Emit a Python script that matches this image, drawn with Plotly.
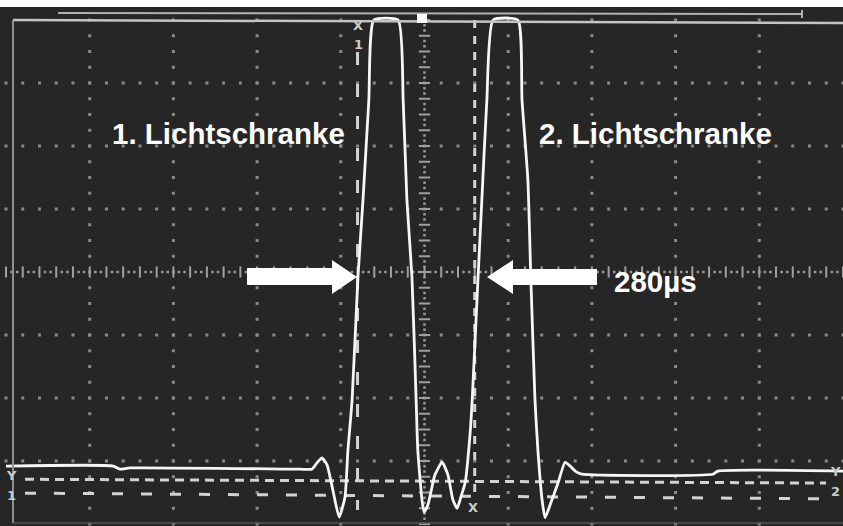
import numpy as np
import plotly.graph_objects as go

# ---- data (200 µs/div, vertical in divisions) ----
time_us = [0, 256, 272, 296, 703, 731, 743, 755, 767, 781, 796, 810, 817, 827, 841, 853, 867, 879,
           937, 949, 958, 970, 980, 984, 994, 999, 1008, 1025, 1042, 1056, 1068, 1078, 1087, 1097,
           1109, 1114, 1128, 1137, 1149, 1164, 1223, 1233, 1247, 1254, 1264, 1271, 1281, 1288,
           1300, 1319, 1336, 1348, 1362, 1376, 1689, 1701, 2000]
signal_div = [0.92, 0.92, 0.87, 0.89, 0.87, 0.87, 0.97, 1.05, 0.94, 0.54, 0.11, 0.43, 1.17, 1.97, 3.92, 5.14, 6.73, 8.0,
              8.0, 6.73, 5.14, 3.92, 1.97, 1.17, 0.38, 0.19, 0.30, 0.78, 0.98, 0.78, 0.38, 0.25, 0.43, 0.65,
              1.44, 1.97, 3.92, 5.14, 6.73, 8.0, 8.0, 6.73, 5.46, 3.92, 1.97, 1.17, 0.38, 0.10,
              0.30, 0.65, 0.98, 0.92, 0.83, 0.79, 0.79, 0.84, 0.84]

cursor_x_us = [840, 1120]          # X1, X2 time cursors (delta = 280 µs)
cursor_y1_div = [0.71, 0.65]       # Y1 cursor (left end, right end)
cursor_y2_div = [0.49, 0.40]       # Y2 cursor (left end, right end)
major_t = [200, 400, 600, 800, 1000, 1200, 1400, 1600, 1800]
major_v = [1, 2, 3, 4, 5, 6, 7]

labels = ["1. Lichtschranke", "2. Lichtschranke", "280µs"]

# ---- pixel helpers for decorations only ----
def px_t(px):
    return (px - 6) * 200 / 83.7

def py_v(py):
    return (524 - py) / 63.0

X_RANGE = [px_t(0), px_t(843)]
Y_RANGE = [py_v(526), py_v(0)]

BG = "#262626"
DOT = "#8a8a8a"

fig = go.Figure()

# dotted graticule: rows (dots every 0.2 div), columns (dots every 0.25 div)
row_x, row_y, col_x, col_y = [], [], [], []
for v in major_v:
    if v == 4:
        continue
    for t in np.arange(0, 2001, 40):
        row_x.append(t); row_y.append(v)
for t in major_t:
    if t == 1000:
        continue
    for v in np.arange(0, 8.01, 0.25):
        col_x.append(t); col_y.append(v)
fig.add_trace(go.Scatter(x=row_x + col_x, y=row_y + col_y, mode="markers",
                         marker=dict(size=3, color=DOT, symbol="square"),
                         hoverinfo="skip", showlegend=False))

# center lines with tick marks
cx_t = list(np.arange(0, 2001, 40))
cx_d = [t for t in np.arange(0, 2001, 40 / 3) if abs((t / 40) - round(t / 40)) > 0.1]
fig.add_trace(go.Scatter(x=cx_t, y=[4] * len(cx_t), mode="markers",
                         marker=dict(symbol="line-ns", size=8, line=dict(color="#a0a0a0", width=2)),
                         hoverinfo="skip", showlegend=False))
fig.add_trace(go.Scatter(x=cx_d, y=[4] * len(cx_d), mode="markers",
                         marker=dict(size=2.5, color="#9a9a9a", symbol="square"),
                         hoverinfo="skip", showlegend=False))
cy_v = list(np.arange(0, 8.01, 0.25))
cy_d = [v for v in np.arange(0, 8.01, 0.25 / 3) if abs((v / 0.25) - round(v / 0.25)) > 0.1]
fig.add_trace(go.Scatter(x=[1000] * len(cy_v), y=cy_v, mode="markers",
                         marker=dict(symbol="line-ew", size=8, line=dict(color="#a0a0a0", width=2)),
                         hoverinfo="skip", showlegend=False))
fig.add_trace(go.Scatter(x=[1000] * len(cy_d), y=cy_d, mode="markers",
                         marker=dict(size=2.5, color="#9a9a9a", symbol="square"),
                         hoverinfo="skip", showlegend=False))

# cursors
CUR = "#d2d2d2"
fig.add_trace(go.Scatter(x=[cursor_x_us[0]] * 2, y=[py_v(52), py_v(510)], mode="lines",
                         line=dict(color=CUR, width=3, dash="13px,19px"),
                         hoverinfo="skip", showlegend=False))
fig.add_trace(go.Scatter(x=[cursor_x_us[1]] * 2, y=[py_v(20), py_v(496)], mode="lines",
                         line=dict(color=CUR, width=3, dash="8px,8px"),
                         hoverinfo="skip", showlegend=False))
fig.add_trace(go.Scatter(x=[px_t(25), px_t(826)], y=cursor_y1_div, mode="lines",
                         line=dict(color=CUR, width=3, dash="9px,6px"),
                         hoverinfo="skip", showlegend=False))
fig.add_trace(go.Scatter(x=[px_t(25), px_t(826)], y=cursor_y2_div, mode="lines",
                         line=dict(color=CUR, width=3, dash="11px,18px"),
                         hoverinfo="skip", showlegend=False))

# signal trace
fig.add_trace(go.Scatter(x=time_us, y=signal_div, mode="lines",
                         line=dict(color="#f6f6f6", width=2.8, shape="spline", smoothing=0.5),
                         hoverinfo="skip", showlegend=False))

shapes = []
# white band at top of photo
shapes.append(dict(type="rect", xref="x", yref="y", x0=px_t(-10), x1=px_t(860), y0=py_v(7), y1=py_v(-10),
                   fillcolor="white", line=dict(width=0), layer="above"))
# top scale line + bracket
shapes.append(dict(type="line", xref="x", yref="y", x0=px_t(58), x1=px_t(802), y0=py_v(13), y1=py_v(14),
                   line=dict(color="#b0b0b0", width=2)))
shapes.append(dict(type="line", xref="x", yref="y", x0=px_t(802), x1=px_t(802), y0=py_v(10), y1=py_v(18),
                   line=dict(color="#b0b0b0", width=2)))
# screen frame
shapes.append(dict(type="line", xref="x", yref="y", x0=px_t(13), x1=px_t(843), y0=py_v(20), y1=py_v(23),
                   line=dict(color="#c4c4c4", width=2.5)))
shapes.append(dict(type="line", xref="x", yref="y", x0=px_t(13), x1=px_t(13), y0=py_v(20), y1=py_v(523),
                   line=dict(color="#8f8f8f", width=2)))
shapes.append(dict(type="line", xref="x", yref="y", x0=px_t(13), x1=px_t(843), y0=py_v(523), y1=py_v(523),
                   line=dict(color="#555555", width=1.5)))
# trigger marker
shapes.append(dict(type="rect", xref="x", yref="y", x0=px_t(417), x1=px_t(427), y0=py_v(23), y1=py_v(14),
                   fillcolor="white", line=dict(width=0)))

# arrows
def poly(pts):
    return "M " + " L ".join(f"{px_t(a):.3f},{py_v(b):.4f}" for a, b in pts) + " Z"

left_arrow = [(247, 268), (332, 268), (332, 260), (357, 277), (332, 294), (332, 285), (247, 285)]
right_arrow = [(597, 269), (513, 269), (513, 260), (487, 277), (513, 294), (513, 285), (597, 285)]
for pts in (left_arrow, right_arrow):
    shapes.append(dict(type="path", xref="x", yref="y", path=poly(pts),
                       fillcolor="white", line=dict(width=0), layer="above"))

font_big = dict(family="Liberation Sans, Arial, sans-serif", size=29.5, color="white", weight="bold")
annotations = [
    dict(x=px_t(228), y=py_v(133), text=labels[0], showarrow=False, font=font_big,
         xanchor="center", yanchor="middle"),
    dict(x=px_t(655), y=py_v(133), text=labels[1], showarrow=False, font=font_big,
         xanchor="center", yanchor="middle"),
    dict(x=px_t(612), y=py_v(281), text=labels[2], showarrow=False, font=font_big,
         xanchor="left", yanchor="middle"),
]
small = dict(family="DejaVu Sans, sans-serif", size=13, color="#cccccc", weight="bold")
for txt, xp, yp in [("X", 358, 25), ("1", 358, 44), ("X", 473, 507), ("Y", 11, 475), ("1", 11, 495),
                    ("Y", 835, 471), ("2", 835, 491)]:
    annotations.append(dict(x=px_t(xp), y=py_v(yp), text=txt, showarrow=False, font=small,
                            xanchor="center", yanchor="middle", borderpad=0))

fig.update_layout(
    width=843, height=526,
    margin=dict(l=0, r=0, t=0, b=0),
    paper_bgcolor=BG, plot_bgcolor=BG,
    xaxis=dict(range=X_RANGE, visible=False, showgrid=False, zeroline=False, fixedrange=True),
    yaxis=dict(range=Y_RANGE, visible=False, showgrid=False, zeroline=False, fixedrange=True),
    shapes=shapes, annotations=annotations, showlegend=False,
)

fig.write_html("out.html", config={"displayModeBar": False},
               post_script="document.body.style.margin='0px';document.body.style.overflow='hidden';")
